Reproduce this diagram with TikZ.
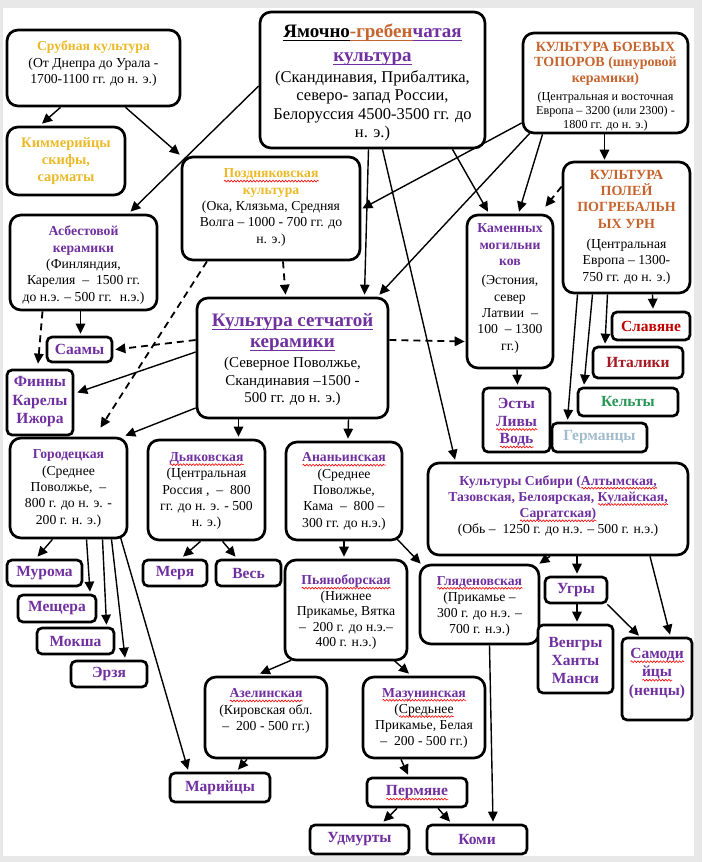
\documentclass[tikz,border=0pt]{standalone}
\usepackage{fontspec}
\setmainfont{Liberation Serif}
\usetikzlibrary{arrows.meta,calc,decorations.pathmorphing}
\definecolor{gold}{RGB}{236,186,40}
\definecolor{pur}{RGB}{112,48,160}
\definecolor{brn}{RGB}{197,100,45}
\definecolor{slr}{RGB}{192,0,0}
\definecolor{itr}{RGB}{165,25,35}
\definecolor{kgr}{RGB}{40,150,85}
\definecolor{ggr}{RGB}{160,188,205}
\definecolor{bggr}{RGB}{232,232,232}
\newcommand\fB{\fontsize{13.7}{16.3}\selectfont}
\newcommand\fS{\fontsize{15.5}{18.5}\selectfont\bfseries}
\newcommand\tp[1]{{\bfseries\color{pur}#1}}
\newcommand\tg[1]{{\bfseries\color{gold}#1}}
\newcommand\tb[1]{{\fontsize{14}{14}\selectfont\bfseries\color{brn}#1}}
\newcommand\myul[1]{\leavevmode\setbox0\hbox{#1}\rlap{\rule[-3pt]{\wd0}{0.9pt}}\box0}
\newsavebox\sqbox
\newlength\sqw
\newcommand\sq[1]{\leavevmode\sbox\sqbox{#1}\setlength\sqw{\wd\sqbox}\smash{\rlap{\tikz[baseline=0pt]\draw[red,line width=0.6pt,decorate,decoration={snake,amplitude=0.9pt,segment length=3.2pt}] (0pt,-3.2pt) -- (\sqw,-3.2pt);}}\usebox\sqbox}
\newcommand\bx[9][]{%
\node[box,#1,minimum width={(#5-#3)*1pt},minimum height={(#6-#4)*1pt}] (#2) at ({(#3+#5)/2},{(#4+#6)/2}) {};
\node[txt,#8] (#2-t) at ({(#3+#5)/2},#7) {#9};}
\tikzset{
  box/.style={draw,line width=2.7pt,rounded corners=11pt,fill=white,inner sep=0pt},
  sbox/.style={rounded corners=5pt},
  txt/.style={inner sep=0pt,align=center,font=\fB},
  sm/.style={font=\fS,text=pur},
  arr/.style={-{Triangle[length=10pt,width=9.5pt]},line width=1.4pt},
  darr/.style={arr,line width=1.8pt,dash pattern=on 7pt off 5pt},
}
\begin{document}
\begin{tikzpicture}[x=1pt,y=-1pt]
\fill[bggr] (0,0) rectangle (702,862);
\fill[white] (3,8) rectangle (694,856);
\useasboundingbox (0,0) rectangle (702,862);
% boxes
\bx{srub}{7}{30}{180}{106}{63.75}{}{\tg{Срубная культура}\\(От Днепра до Урала -\\1700-1100 гг. до н. э.)}
\bx{kimm}{7}{127}{125}{195}{161.5}{font=\fontsize{14.5}{17}\selectfont\bfseries,text=gold}{Киммерийцы\\скифы,\\сарматы}
\bx{yam}{260}{12}{485}{148}{82.75}{font=\fontsize{16.5}{18.5}\selectfont}{{\fontsize{19}{18}\selectfont\bfseries\myul{Ямочно}\textcolor{brn}{\myul{-гребен}}\textcolor{pur}{\myul{чатая}}}\\[5.5pt]{\fontsize{19}{18}\selectfont\bfseries\color{pur}\myul{культура}}\\[2pt](Скандинавия, Прибалтика,\\северо- запад России,\\Белоруссия 4500-3500 гг. до\\н. э.)}
\bx{boev}{523}{33}{688}{133}{86.5}{font=\fontsize{12.2}{14}\selectfont}{\tb{КУЛЬТУРА БОЕВЫХ}\\[1.5pt]\tb{ТОПОРОВ (шнуровой}\\[2pt]\tb{керамики)}\\[4pt](Центральная и восточная\\Европа – 3200 (или 2300) -\\1800 гг. до н. э.)}
\bx{pozd}{182}{157}{360}{260}{207.5}{}{\tg{\sq{Поздняковская}}\\\tg{культура}\\(Ока, Клязьма, Средняя\\Волга – 1000 - 700 гг. до\\н. э.)}
\bx{asb}{10}{215}{157}{310}{265}{}{\tp{Асбестовой}\\\tp{керамики}\\(Финляндия,\\Карелия~ –~ 1500 гг.\\до н.э. – 500 гг.~ н.э.)}
\bx{kam}{467}{215}{553}{368}{288.5}{}{\tp{Каменных}\\\tp{могильни}\\\tp{ков}\\[3pt](Эстония,\\север\\Латвии~ –\\100~ – 1300\\гг.)}
\bx{urn}{563}{162}{690}{293}{227}{}{\tb{КУЛЬТУРА}\\\tb{ПОЛЕЙ}\\\tb{ПОГРЕБАЛЬН}\\\tb{ЫХ УРН}\\[4pt](Центральная\\Европа – 1300-\\750 гг. до н. э.)}
\bx{set}{197}{298}{388}{418}{360}{font=\fontsize{15}{17.5}\selectfont}{{\fontsize{19}{18}\selectfont\bfseries\color{pur}\myul{Культура сетчатой}}\\[3.5pt]{\fontsize{19}{18}\selectfont\bfseries\color{pur}\myul{керамики}}\\[2.5pt](Северное Поволжье,\\Скандинавия –1500 -\\500 гг. до н. э.)}
\bx[sbox]{saam}{47}{337}{112}{362}{349.5}{sm}{Саамы}
\bx[sbox]{finn}{7}{370}{73}{435}{402}{sm}{Финны\\Карелы\\Ижора}
\bx[sbox]{esty}{483}{388}{550}{452}{422.5}{sm,font=\fontsize{15.5}{17.5}\selectfont\bfseries}{Эсты\\\sq{Ливы}\\\sq{Водь}}
\bx[sbox]{slav}{612}{312}{690}{340}{326}{sm,text=slr}{Славяне}
\bx[sbox]{ital}{593}{347}{683}{378}{362.5}{sm,text=itr}{Италики}
\bx[sbox]{kelt}{578}{388}{678}{416}{401}{sm,text=kgr}{Кельты}
\bx[sbox]{germ}{552}{423}{647}{452}{437.5}{sm,text=ggr}{Германцы}
\bx{gor}{10}{438}{127}{538}{488.5}{}{\tp{Городецкая}\\(Среднее\\Поволжье,~ –\\800 г. до н. э. -\\200 г. н. э.)}
\bx{dyak}{148}{440}{265}{540}{491}{}{\tp{\sq{Дьяковская}}\\(Центральная\\Россия ,~ –~ 800\\гг. до н. э. - 500\\н. э.)}
\bx{anan}{286}{442}{402}{540}{491.5}{}{\tp{\sq{Ананьинская}}\\(Среднее\\Поволжье,\\Кама~ –~ 800 –\\300 гг. до н.э.)}
\bx{sib}{428}{463}{688}{555}{506}{}{\tp{Культуры Сибири (\sq{Алтымская,}}\\\tp{Тазовская, Белоярская, \sq{Кулайская,}}\\\tp{\sq{Саргатская)}}\\(Обь –~ 1250 г. до н.э. – 500 г. н.э.)}
\bx[sbox]{mur}{7}{560}{82}{586}{573}{sm}{Мурома}
\bx[sbox]{mer}{143}{560}{207}{586}{573}{sm}{Меря}
\bx[sbox]{ves}{216}{560}{281}{586}{573}{sm}{Весь}
\bx{pyan}{285}{560}{407}{660}{612.5}{font=\fontsize{13.7}{15.5}\selectfont}{\tp{\sq{Пьяноборская}}\\(Нижнее\\Прикамье, Вятка\\–~ 200 г. до н.э.–\\400 г. н.э.)}
\bx{glya}{420}{565}{539}{644}{606.5}{}{\tp{\sq{Гляденовская}}\\(Прикамье –\\300 г. до н.э. –\\700 г. н.э.)}
\bx[sbox]{ugry}{545}{577}{607}{603}{590}{sm}{Угры}
\bx[sbox]{mesch}{18}{595}{96}{622}{608}{sm}{Мещера}
\bx[sbox]{moksha}{37}{628}{114}{654}{641}{sm}{Мокша}
\bx[sbox]{veng}{538}{625}{613}{693}{660}{sm,font=\fontsize{15.5}{18}\selectfont\bfseries}{Венгры\\Ханты\\Манси}
\bx[sbox]{samo}{622}{638}{692}{720}{673.5}{sm}{\sq{Самоди}\\\sq{йцы}\\(ненцы)}
\bx[sbox]{erz}{71}{661}{147}{687}{674}{sm}{Эрзя}
\bx{azel}{205}{677}{327}{758}{711}{}{\tp{\sq{Азелинская}}\\(Кировская обл.\\–~ 200 - 500 гг.)}
\bx{mazu}{363}{677}{485}{758}{718.5}{}{\tp{\sq{Мазунинская}}\\(\sq{Средьнее}\\Прикамье, Белая\\–~ 200 - 500 гг.)}
\bx[sbox]{mari}{170}{773}{270}{802}{787.5}{sm}{Марийцы}
\bx[sbox]{perm}{367}{778}{467}{807}{792.5}{sm}{\sq{Пермяне}}
\bx[sbox]{udm}{310}{825}{409}{854}{839.5}{sm}{Удмурты}
\bx[sbox]{komi}{427}{825}{527}{854}{839.5}{sm}{Коми}
% connectors
\draw[arr] ($(srub.south)+(-33,0)$) -- ($(kimm.north)+(-24,-2)$);
\draw[arr] ($(srub.south)+(32,0)$) -- ($(pozd.north west)+(-1,-1)$);
\draw[arr] ($(yam.west)+(0,6)$) -- ($(asb.north)+(47,-2)$);
\draw[arr] ($(yam.south)+(-4,0)$) -- ($(set.north)+(72,-2)$);
\draw[arr] ($(yam.south)+(10,0)$) -- ($(sib.north)+(-103,-2)$);
\draw[arr] ($(yam.south)+(80,0)$) -- ($(kam.north)+(-22,-2)$);
\draw[arr] ($(boev.west)+(0,40)$) -- ($(pozd.east)+(1,0)$);
\draw[arr] ($(boev.south west)+(8,-1)$) -- ($(set.north east)+(-10,-2)$);
\draw[arr] ($(boev.south)+(-63,0)$) -- ($(kam.north)+(9,-2)$);
\draw[arr] ($(boev.south)+(-1,0)$) -- ($(urn.north)+(-22,-1)$);
\draw[darr] ($(urn.west)+(0,-41)$) -- ($(kam.north east)+(-9,-7)$);
\draw[darr] ($(pozd.south)+(12,0)$) -- ($(set.north)+(-7,-2)$);
\draw[darr] ($(pozd.south)+(-64,0)$) -- ($(gor.north)+(32,-9)$);
\draw[arr] ($(asb.south)+(-3,0)$) -- ($(saam.north)+(1,-2)$);
\draw[darr] ($(asb.south)+(-41,0)$) -- ($(finn.north)+(-2,-5)$);
\draw[darr] ($(set.west)+(0,-18)$) -- ($(saam.east)+(2,0)$);
\draw[arr] ($(set.west)+(0,-6)$) -- ($(finn.east)+(3,-10)$);
\draw[arr] ($(set.west)+(0,50)$) -- ($(gor.north east)+(-3,-1)$);
\draw[arr] ($(set.south)+(-54,0)$) -- ($(dyak.north)+(32,-2)$);
\draw[arr] ($(set.south)+(56,0)$) -- ($(anan.north)+(4,-2)$);
\draw[darr] ($(set.east)+(0,-18)$) -- ($(kam.west)+(-1,50)$);
\draw[arr] ($(kam.south)+(7,0)$) -- ($(esty.north)+(1,-2)$);
\draw[arr] ($(urn.south)+(26,0)$) -- ($(slav.north)+(2,-2)$);
\draw[arr] ($(urn.south)+(-19,0)$) -- ($(ital.north)+(-33,-2)$);
\draw[arr] ($(urn.south)+(-34,0)$) -- ($(kelt.north)+(-44,-2)$);
\draw[arr] ($(urn.south)+(-49,0)$) -- ($(germ.north)+(-32,-2)$);
\draw[arr] ($(gor.south)+(-16,0)$) -- ($(mur.north)+(-7,-2)$);
\draw[arr] ($(gor.south)+(18,0)$) -- ($(mesch.north)+(33,-2)$);
\draw[arr] ($(gor.south)+(34,0)$) -- ($(moksha.north)+(31,-2)$);
\draw[arr] ($(gor.south)+(43,0)$) -- ($(erz.north)+(16,-2)$);
\draw[arr] ($(gor.south)+(52,-2)$) -- ($(mari.north)+(-32,-2)$);
\draw[arr] ($(dyak.south)+(-6,0)$) -- ($(mer.north)+(8,-2)$);
\draw[arr] ($(dyak.south)+(16,0)$) -- ($(ves.north)+(-13,-2)$);
\draw[arr] ($(anan.south)+(0,0)$) -- ($(pyan.north)+(-2,-2)$);
\draw[arr] ($(anan.south east)+(-6,-2)$) -- ($(glya.north west)+(2,0)$);
\draw[arr] ($(sib.south)+(-8,0)$) -- ($(glya.north east)+(-1,0)$);
\draw[arr] ($(sib.south)+(19,0)$) -- ($(ugry.north)+(1,-2)$);
\draw[arr] ($(sib.south)+(92,0)$) -- ($(samo.north)+(13,-2)$);
\draw[arr] ($(ugry.south)+(1,0)$) -- ($(veng.north)+(1.5,-2)$);
\draw[arr] ($(ugry.south east)+(-1,0)$) -- ($(samo.north)+(-18,-1)$);
\draw[arr] ($(pyan.south)+(-55,-1)$) -- ($(azel.north)+(-6,-2)$);
\draw[arr] ($(pyan.south)+(48,-1)$) -- ($(mazu.north)+(-15,-2)$);
\draw[arr] ($(glya.south)+(10,0)$) -- ($(komi.north)+(16,-2)$);
\draw[arr] ($(azel.south)+(-19,0)$) -- ($(mari.north)+(18,-2)$);
\draw[arr] ($(mazu.south)+(-23,0)$) -- ($(perm.north)+(-9,-2)$);
\draw[arr] ($(perm.south)+(-20,0)$) -- ($(udm.north)+(24,-2)$);
\draw[arr] ($(perm.south)+(21,0)$) -- ($(komi.north)+(-27,-2)$);
\end{tikzpicture}
\end{document}
